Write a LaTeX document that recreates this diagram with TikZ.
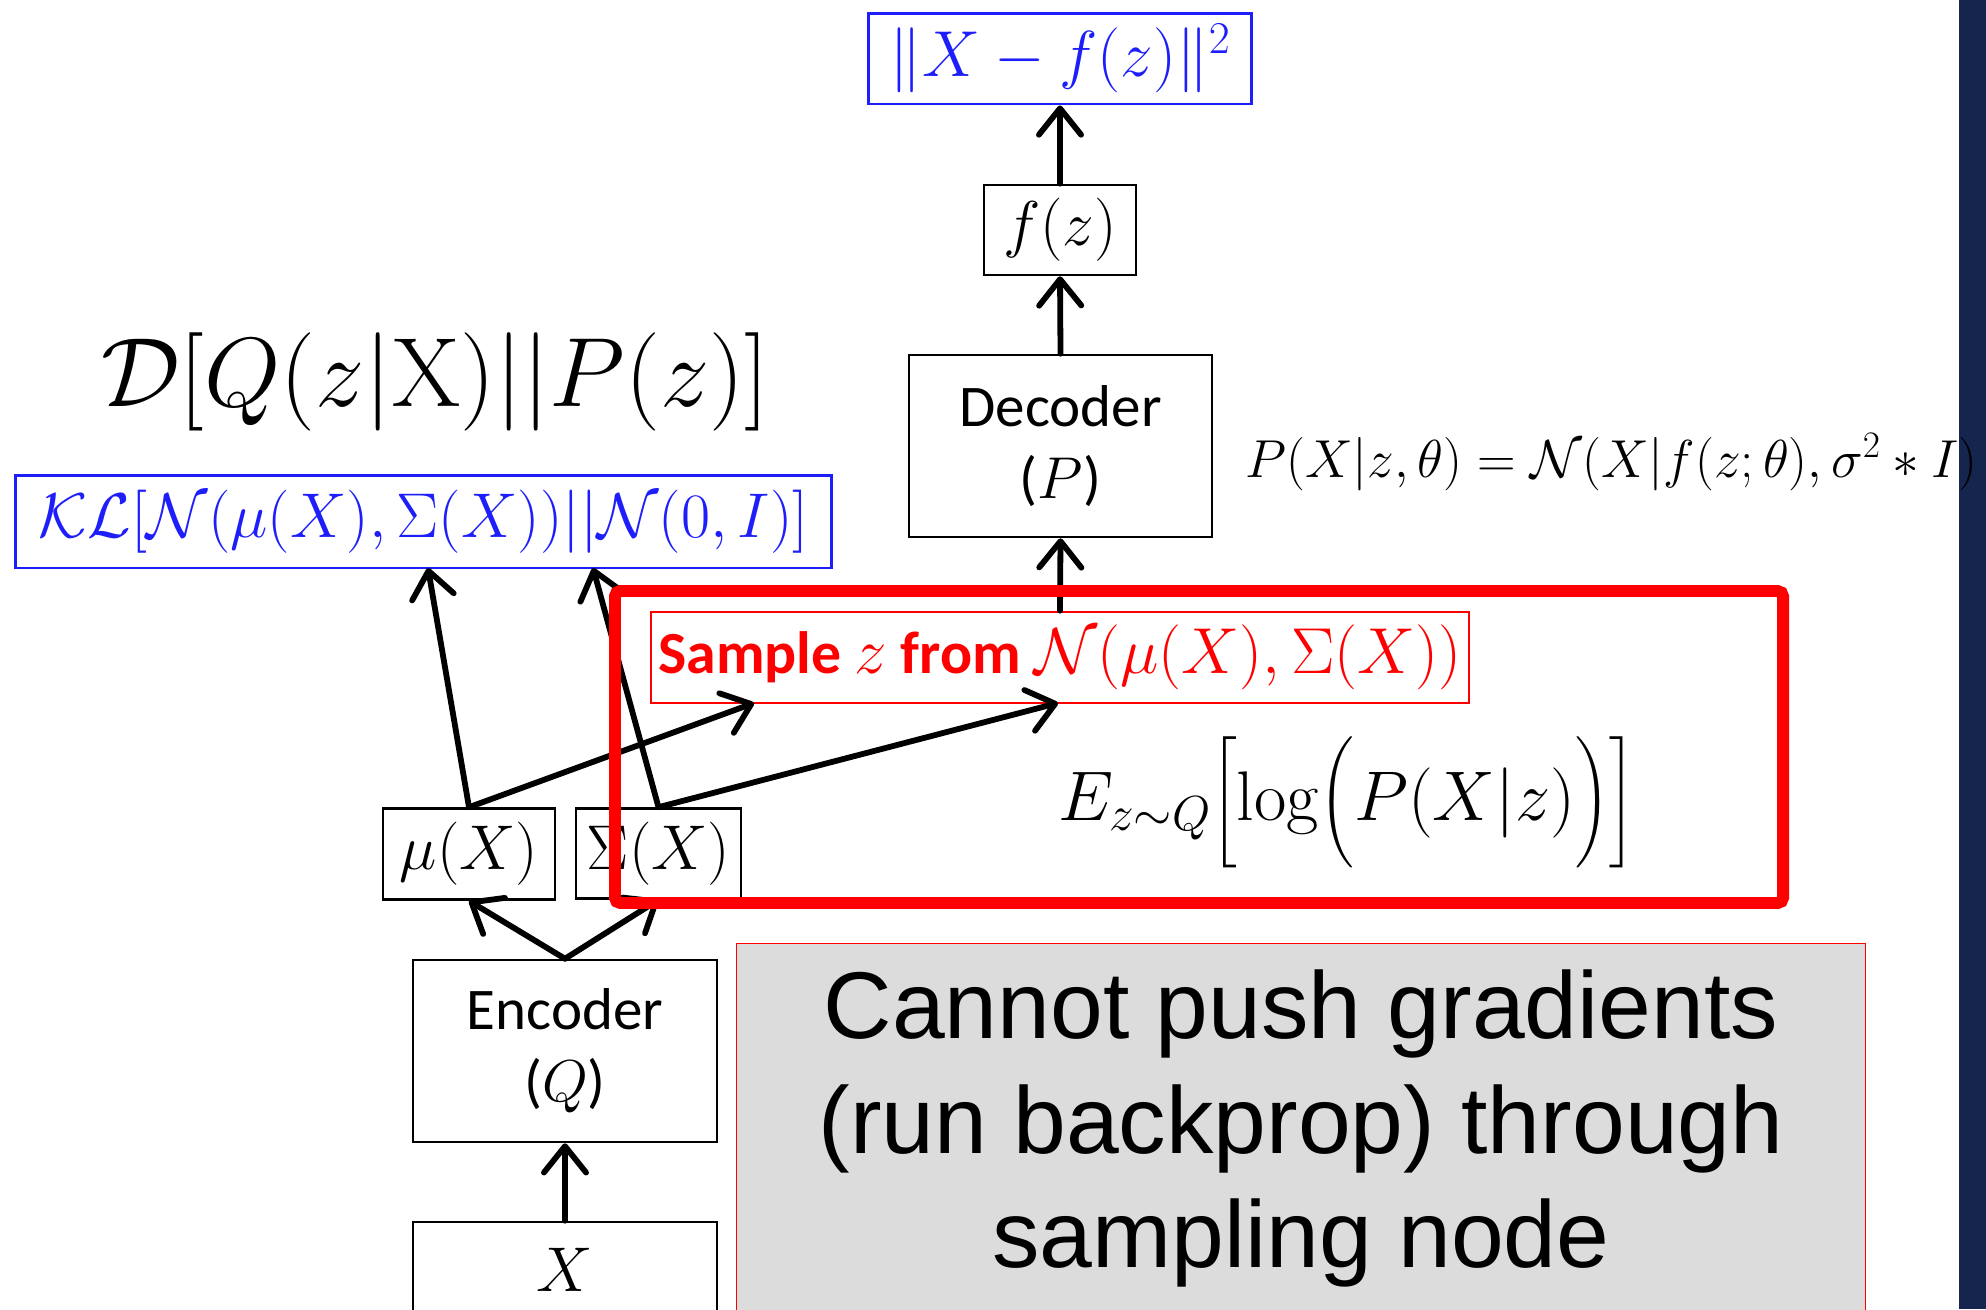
\RequirePackage{fix-cm}
\documentclass[tikz,border=0pt]{standalone}
\usepackage{amsmath}
\usepackage[no-math]{fontspec}
\newfontfamily\calibri{Carlito}
\newfontfamily\arialfont{Liberation Sans}
\usetikzlibrary{positioning,arrows.meta}
\definecolor{lossblue}{RGB}{30,30,250}
\definecolor{samplered}{RGB}{255,0,0}
\definecolor{notegray}{RGB}{220,220,220}
\definecolor{slidenavy}{RGB}{21,37,77}
\newcommand{\sampfont}{\calibri\bfseries\fontsize{34}{40}\selectfont}

\begin{document}
\begin{tikzpicture}[
  x=0.02cm, y=-0.02cm,
  box/.style={draw, line width=1.5pt, inner sep=0pt, align=center},
  lossbox/.style={draw=lossblue, text=lossblue, line width=1.7pt, inner sep=0pt},
  netbox/.style={box, font=\fontsize{33.6}{41}\calibri},
  mathbig/.style={font=\fontsize{36}{40}\selectfont},
  arr/.style={line width=3.3pt, line cap=round,
    -{Straight Barb[round,length=15pt,width=24pt]}}
]
\useasboundingbox (0,0) rectangle (1986,1309);
\fill[slidenavy] (1959,0) rectangle (1986,1309);

% decoder side
\node[lossbox, font=\fontsize{37}{40}\selectfont,
  minimum width=7.68cm, minimum height=1.82cm]
  (loss) at (1060,58.5) {$\|X-f(z)\|^2$};
\node[box, mathbig, minimum width=3.04cm, minimum height=1.8cm]
  (fz) at (1060,230) {$f(z)$};
\node[netbox, minimum width=6.06cm, minimum height=3.64cm]
  (dec) at (1060.5,446) {Decoder\\($P$)};

% sampling node
\node[draw=samplered, text=samplered, line width=1.5pt, inner sep=0pt,
  minimum width=16.36cm, minimum height=1.82cm,
  font=\fontsize{37}{44}\selectfont]
  (smp) at (1060,657.5)
  {{\sampfont Sample }$z${\sampfont\ from }$\mathcal{N}(\mu(X),\Sigma(X))$};

% encoder side
\node[lossbox, font=\fontsize{36}{40}\selectfont,
  minimum width=16.34cm, minimum height=1.86cm]
  (kl) at (423.5,521.5) {$\mathcal{KL}[\mathcal{N}(\mu(X),\Sigma(X))||\mathcal{N}(0,I)]$};
\node[box, mathbig, minimum width=3.44cm, minimum height=1.82cm]
  (mu) at (469,854) {$\mu(X)$};
\node[box, mathbig, minimum width=3.3cm, minimum height=1.8cm]
  (sig) at (658.5,853.5) {$\Sigma(X)$};
\node[netbox, minimum width=6.08cm, minimum height=3.64cm]
  (enc) at (565,1051) {Encoder\\($Q$)};
\node[box, anchor=base, font=\fontsize{36}{40}\selectfont,
  minimum width=6.08cm, text height=1.38cm, text depth=1cm]
  (xin) at (565,1291) {$X$};

% formulas
\node[anchor=base, inner sep=0pt, font=\fontsize{56}{60}\selectfont]
  (kldiv) at (435,406) {$\mathcal{D}[Q(z|\mathrm{X})||P(z)]$};
\node[anchor=base west, inner sep=0pt, font=\fontsize{30.4}{36}\selectfont]
  (lik) at (1245,477) {$P(X|z,\theta)=\mathcal{N}(X|f(z;\theta),\sigma^2*I)$};
\node[anchor=base west, inner sep=0pt, font=\fontsize{40}{44}\selectfont]
  (recon) at (1058,820) {$E_{z\sim Q}\Bigl[\log\Bigl(P(X|z)\Bigr)\Bigr]$};

% note
\node[fill=notegray, draw=samplered, line width=0.6pt, anchor=north,
  minimum width=22.6cm, minimum height=7.4cm, align=center,
  font=\fontsize{54}{65.4}\arialfont]
  (note) at (1301,943) {Cannot push gradients\\(run backprop) through\\sampling node};

% arrows
\coordinate (klinA) at (428,568);
\coordinate (klinB) at (593,568);
\coordinate (smpinA) at (754,703);
\coordinate (smpinB) at (1058,703);

\draw[arr] (xin.north) -- (enc.south);
\draw[arr] (enc.north) -- (mu.south);
\draw[arr] (enc.north) -- (sig.south);
\draw[arr] (mu.north) -- (klinA);
\draw[arr] (mu.north) -- (smpinA);
\draw[arr] (sig.north) -- (klinB);
\draw[arr] (sig.north) -- (smpinB);
\draw[arr] (smp.north) -- (dec.south);
\draw[arr] (dec.north) -- (fz.south);
\draw[arr] (fz.north) -- (loss.south);

% the sampling step
\draw[samplered, line width=6.8pt, rounded corners=3pt]
  (615,591) rectangle (1783,903);
\end{tikzpicture}
\end{document}
